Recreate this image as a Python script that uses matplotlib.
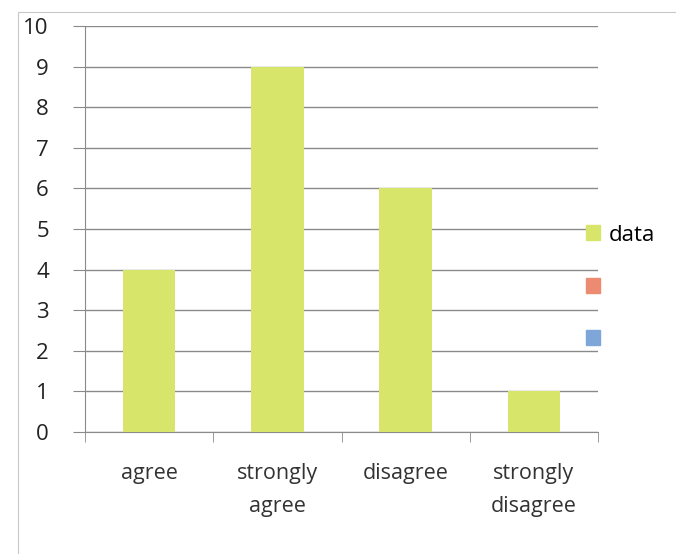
import matplotlib.pyplot as plt
from matplotlib.patches import Patch, Rectangle
import numpy as np

categories = ['agree', 'strongly\nagree', 'disagree', 'strongly\ndisagree']
values = [4, 9, 6, 1]
y_ticks = list(range(0, 11))

bar_color = '#d8e56b'
grid_color = '#8a8a8a'

plt.rcParams['font.family'] = ['Open Sans', 'DejaVu Sans']

fig = plt.figure(figsize=(6.76, 5.54), dpi=100)
ax = fig.add_axes([85 / 676, 1 - 432 / 554, (598 - 85) / 676, (432 - 26) / 554])

# light frame left from the scan
fig.patches.append(Rectangle((18 / 676, -0.02), 1.0, 1 - 12 / 554 + 0.02,
                             transform=fig.transFigure, fill=False,
                             edgecolor='#c8c8c8', linewidth=0.8))

x = np.arange(len(categories))
ax.bar(x, values, width=0.41, color=bar_color, zorder=3)

ax.set_xlim(-0.5, len(categories) - 0.5)
ax.set_ylim(0, 10)
ax.set_yticks(y_ticks)
ax.yaxis.grid(True, color=grid_color, linewidth=1.0, zorder=0)

ax.set_xticks(x)
ax.set_xticklabels(categories, fontsize=15.5, color='#333333', linespacing=1.75)
ax.set_xticks(np.arange(-0.5, len(categories)), minor=True)
ax.tick_params(axis='x', which='major', length=0, pad=22)
ax.tick_params(axis='x', which='minor', length=7, color=grid_color, direction='out')
ax.tick_params(axis='y', length=9, color=grid_color, pad=17, labelsize=16,
               labelcolor='#222222')

for side in ['top', 'right']:
    ax.spines[side].set_visible(False)
for side in ['left', 'bottom']:
    ax.spines[side].set_color(grid_color)

handles = [Patch(color=bar_color), Patch(color='#ec8a72'), Patch(color='#7ea6d8')]
fig.legend(handles, ['data', '', ''], loc='upper left',
           bbox_to_anchor=(570 / 676, 1 - 209 / 554), frameon=False,
           fontsize=16, handlelength=0.65, handleheight=0.65,
           handletextpad=0.4, labelspacing=1.42, borderpad=0.2)

fig.savefig('out.png', dpi=100)
